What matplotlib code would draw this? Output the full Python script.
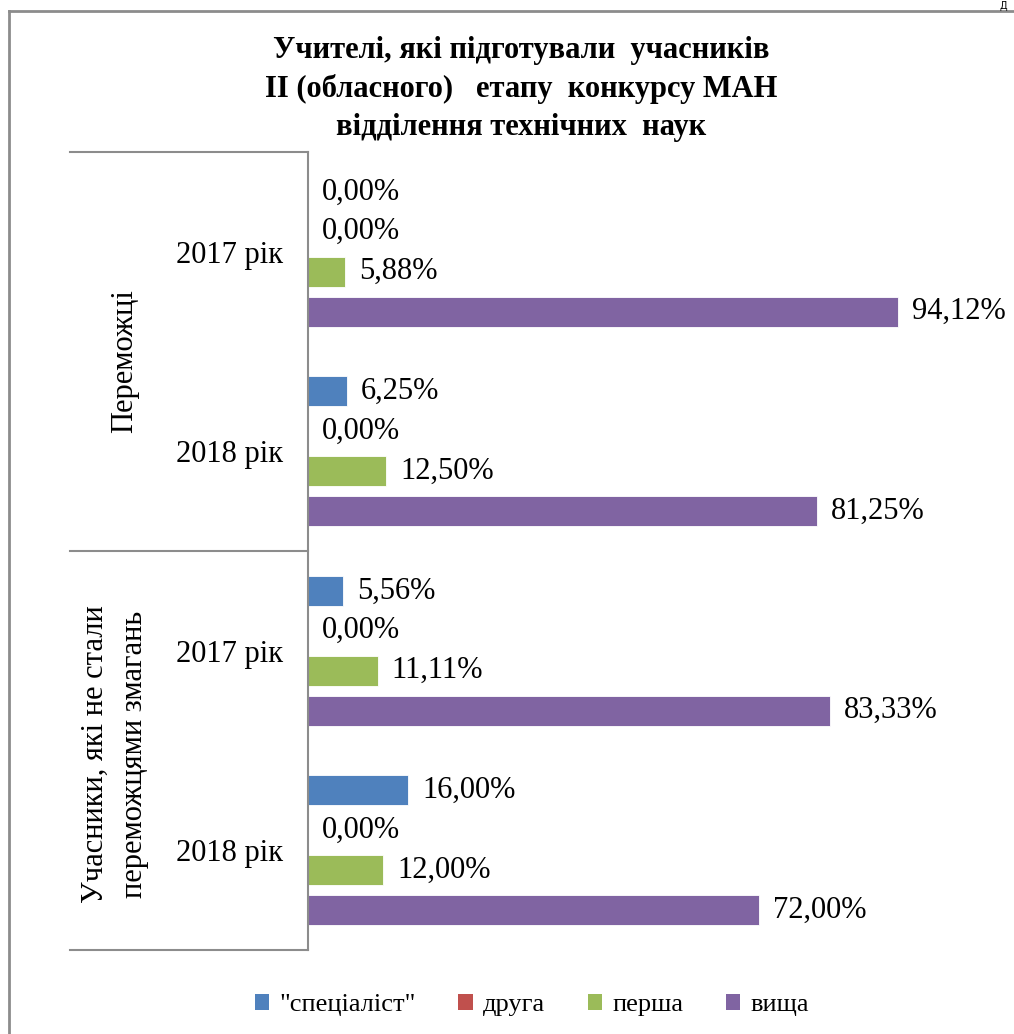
import matplotlib
matplotlib.use("Agg")
import matplotlib.pyplot as plt
from matplotlib.transforms import blended_transform_factory
from matplotlib.lines import Line2D
from matplotlib.patches import Patch
import numpy as np

plt.rcParams['font.family'] = ['Liberation Serif', 'DejaVu Serif']

title = "Учителі, які підготували  учасників\nІІ (обласного)   етапу  конкурсу МАН\nвідділення технічних  наук"
categories = ["2017 рік", "2018 рік", "2017 рік", "2018 рік"]
groups = ["Переможці", "Учасники, які не стали\nпереможцями змагань"]
series_names = ['"спеціаліст"', "друга", "перша", "вища"]
specialist = [0.00, 6.25, 5.56, 16.00]
druha = [0.00, 0.00, 0.00, 0.00]
persha = [5.88, 12.50, 11.11, 12.00]
vyshcha = [94.12, 81.25, 83.33, 72.00]
colors = ["#4F81BD", "#C0504D", "#9BBB59", "#8064A2"]

W, H = 1014, 1034
fig = plt.figure(figsize=(W / 100, H / 100), dpi=100)
ax = fig.add_axes([308 / W, 1 - 950 / H, (935 - 308) / W, (950 - 152) / H])

y = np.arange(len(categories))
offsets = [-0.3, -0.1, 0.1, 0.3]
data = [specialist, druha, persha, vyshcha]
for vals, off, c, name in zip(data, offsets, colors, series_names):
    ax.barh(y + off, vals, height=0.15, color=c, edgecolor='white', linewidth=0.6, label=name)
    for yi, v in zip(y, vals):
        ax.text(v + 2.2, yi + off, f"{v:.2f}%".replace('.', ','), va='center', ha='left',
                fontsize=22, color='black')

ax.set_xlim(0, 100)
ax.set_ylim(3.5, -0.5)
ax.set_yticks(y)
ax.set_yticklabels(categories, fontsize=22)
ax.tick_params(axis='y', length=0, pad=18)
ax.set_xticks([])
for s in ['top', 'right', 'bottom']:
    ax.spines[s].set_visible(False)
ax.spines['left'].set_color('#8c8c8c')
ax.spines['left'].set_linewidth(1.5)

trans = blended_transform_factory(fig.transFigure, ax.transData)
for yy in [-0.5, 1.5, 3.5]:
    ax.add_line(Line2D([70 / W, 308 / W], [yy, yy], transform=trans, color='#8c8c8c',
                       linewidth=1.5, clip_on=False))

ax.text(125 / W, 0.55, groups[0], transform=trans, rotation=90, ha='center', va='center',
        fontsize=22)
ax.text(115 / W, 2.52, groups[1], transform=trans, rotation=90, ha='center', va='center',
        fontsize=22, linespacing=1.45)

fig.text(521 / W, 1 - 89 / H, title, ha='center', va='center', fontsize=22,
         fontweight='bold', linespacing=1.4)

# chart border
fig.add_artist(Line2D([9 / W, 9 / W], [0, 1 - 11 / H], transform=fig.transFigure,
                      color='#8c8c8c', linewidth=2))
fig.add_artist(Line2D([9 / W, 1], [1 - 11 / H, 1 - 11 / H], transform=fig.transFigure,
                      color='#8c8c8c', linewidth=2))
fig.text(1003 / W, 1 - 0.5 / H, "Д", ha='center', va='top', fontsize=7, family='DejaVu Sans')

handles = [Patch(facecolor=c, edgecolor='none') for c in colors]
fig.legend(handles, series_names, loc='center', bbox_to_anchor=(532 / W, 1 - 1005 / H),
           ncol=4, frameon=False, fontsize=19, handlelength=0.55, handleheight=0.55,
           handletextpad=0.4, columnspacing=1.6)

fig.savefig("out.png", dpi=100)
